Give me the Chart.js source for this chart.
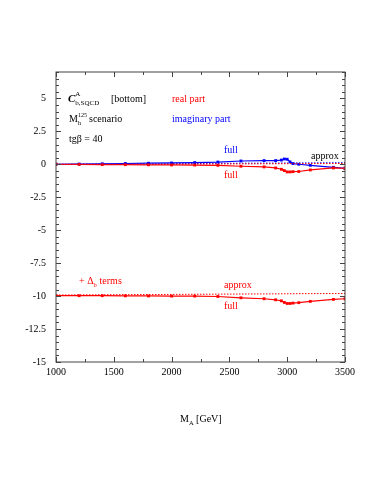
<!DOCTYPE html>
<html>
<head>
<meta charset="utf-8">
<script src="https://cdn.jsdelivr.net/npm/chart.js@4.4.0/dist/chart.umd.min.js"></script>
<style>
  body { margin: 0; background: #fff; }
  canvas { display: block; }
</style>
</head>
<body>
<canvas id="chart" width="383" height="495"></canvas>
<script>
// M_A grid (GeV)
const mA = [1000, 1200, 1400, 1600, 1800, 2000, 2200, 2400, 2600, 2800, 2900, 2950, 2975, 3000, 3025, 3050, 3100, 3200, 3400, 3500];
const realFull = [0, -0.01, -0.02, -0.03, -0.04, -0.05, -0.06, -0.08, -0.15, -0.2, -0.28, -0.38, -0.48, -0.58, -0.58, -0.56, -0.55, -0.43, -0.28, -0.3];
const imagFull = [0, 0.02, 0.04, 0.06, 0.08, 0.1, 0.13, 0.17, 0.25, 0.28, 0.28, 0.32, 0.4, 0.38, 0.18, 0.05, 0, -0.08, -0.23, -0.3];
const dbFull = [-9.97, -9.97, -9.97, -9.98, -9.99, -10.0, -10.0, -10.03, -10.13, -10.2, -10.28, -10.36, -10.48, -10.56, -10.56, -10.53, -10.5, -10.4, -10.25, -10.2];
// approx curves (straight, just endpoints)
const approxX = [1000, 3500];
const approxReal = [-0.02, 0.06];
const approxImag = [0, 0.12];
const dbApprox = [-9.92, -9.8];

const xTicks = [1000, 1500, 2000, 2500, 3000, 3500];
const yTicks = [-15, -12.5, -10, -7.5, -5, -2.5, 0, 2.5, 5];

const RED = '#ff0000';
const BLUE = '#0000ff';
const SERIF = '"Liberation Serif", "DejaVu Serif", serif';

function pts(xs, ys) {
  return xs.map((x, i) => ({ x: x, y: ys[i] }));
}

function fullSet(data, color) {
  return {
    data: data, borderColor: color, backgroundColor: color, borderWidth: 1.2,
    pointStyle: 'rect', pointRadius: 2, pointBorderWidth: 0, tension: 0
  };
}
function approxSet(data, color) {
  return {
    data: data, borderColor: color, borderWidth: 1, borderDash: [1.5, 1.5],
    pointRadius: 0, tension: 0
  };
}

// frame, inward ticks and labels inside the plot
const decor = {
  id: 'decor',
  afterDraw(chart) {
    const ctx = chart.ctx;
    const a = chart.chartArea;
    const xs = chart.scales.x, ys = chart.scales.y;
    ctx.save();
    ctx.strokeStyle = '#444';
    ctx.lineWidth = 1;
    ctx.strokeRect(a.left, a.top, a.right - a.left, a.bottom - a.top);
    ctx.beginPath();
    for (let v = 1000; v <= 3500; v += 250) {
      const p = Math.round(xs.getPixelForValue(v)) + 0.5;
      const len = v % 500 === 0 ? 5 : 3;
      ctx.moveTo(p, a.bottom); ctx.lineTo(p, a.bottom - len);
      ctx.moveTo(p, a.top); ctx.lineTo(p, a.top + len);
    }
    for (let v = -15; v <= 7; v += 0.5) {
      const p = Math.round(ys.getPixelForValue(v)) + 0.5;
      const len = Math.abs(v % 2.5) < 1e-6 ? 5 : 3;
      ctx.moveTo(a.left, p); ctx.lineTo(a.left + len, p);
      ctx.moveTo(a.right, p); ctx.lineTo(a.right - len, p);
    }
    ctx.stroke();

    ctx.textBaseline = 'alphabetic';
    ctx.textAlign = 'left';
    const t = (s, x, y, size, color, style) => {
      ctx.font = (style || '') + ' ' + size + 'px ' + SERIF;
      ctx.fillStyle = color;
      ctx.fillText(s, x, y);
      return x + ctx.measureText(s).width;
    };

    // C^A_{b,SQCD} [bottom]
    let x = t('C', 68, 102, 11, '#000', 'italic bold');
    t('A', x, 96, 7, '#000');
    t('b,SQCD', x, 105, 7, '#000');
    t('[bottom]', 111, 102, 10, '#000');
    t('real part', 172, 102, 10, RED);

    // M_h^125 scenario
    x = t('M', 69, 122, 10, '#000');
    t('125', x, 117, 6, '#000');
    t('h', x, 125, 6, '#000');
    t('scenario', 89, 122, 10, '#000');
    t('imaginary part', 172, 122, 10, BLUE);

    t('tg\u03b2 = 40', 69, 142, 10, '#000');

    t('full', 224, 153, 10, BLUE);
    t('approx', 311, 159, 10, '#000');
    t('full', 224, 178, 10, RED);

    x = t('+ \u0394', 79, 284, 10, RED);
    t('b', x, 287, 6.5, RED);
    t('terms', x + 6, 284, 10, RED);
    t('approx', 224, 288, 10, RED);
    t('full', 224, 309, 10, RED);

    // x axis title
    x = t('M', 180, 422, 10, '#000');
    x = t('A', x, 425, 6.5, '#000');
    t('[GeV]', x + 2.5, 422, 10, '#000');
    ctx.restore();
  }
};

new Chart(document.getElementById('chart'), {
  type: 'line',
  data: {
    datasets: [
      approxSet(pts(approxX, approxReal), RED),
      approxSet(pts(approxX, approxImag), BLUE),
      approxSet(pts(approxX, dbApprox), RED),
      fullSet(pts(mA, realFull), RED),
      fullSet(pts(mA, imagFull), BLUE),
      fullSet(pts(mA, dbFull), RED)
    ]
  },
  options: {
    responsive: false,
    animation: false,
    layout: { padding: { top: 72, right: 38, left: 0, bottom: 0 } },
    plugins: { legend: { display: false }, tooltip: { enabled: false } },
    scales: {
      x: {
        type: 'linear', min: 1000, max: 3500,
        afterBuildTicks: s => { s.ticks = xTicks.map(v => ({ value: v })); },
        afterFit: s => { s.height = 133; },
        grid: { display: false, drawTicks: false },
        border: { display: false },
        ticks: { maxRotation: 0, padding: 4, color: '#000', font: { family: SERIF, size: 10 },
                 callback: v => String(v) }
      },
      y: {
        type: 'linear', min: -15, max: 7,
        afterBuildTicks: s => { s.ticks = yTicks.map(v => ({ value: v })); },
        afterFit: s => { s.width = 56; },
        grid: { display: false, drawTicks: false },
        border: { display: false },
        ticks: { padding: 10, color: '#000', font: { family: SERIF, size: 10 },
                 callback: v => String(v) }
      }
    }
  },
  plugins: [decor]
});
</script>
</body>
</html>
